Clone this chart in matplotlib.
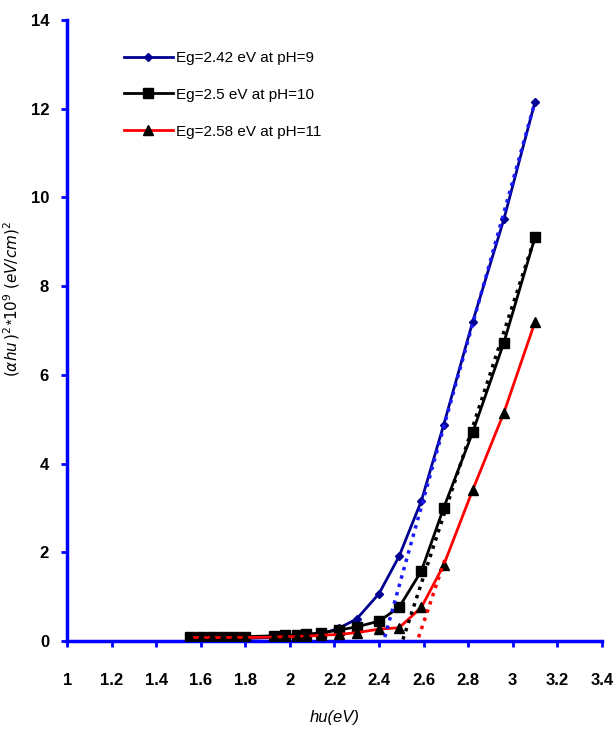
import matplotlib
matplotlib.use("Agg")
import matplotlib.pyplot as plt

# photon energy (eV), shared by the three samples
hv = [1.55, 1.60, 1.65, 1.70, 1.75, 1.80, 1.93, 1.98, 2.03, 2.07, 2.14,
      2.22, 2.30, 2.40, 2.49, 2.59, 2.69, 2.82, 2.96, 3.10]

# (alpha h nu)^2 * 10^9 (eV/cm)^2
ph9 = [0.05, 0.05, 0.05, 0.05, 0.06, 0.06, 0.08, 0.09, 0.10, 0.12, 0.16,
       0.29, 0.50, 1.07, 1.91, 3.16, 4.87, 7.19, 9.50, 12.15]
ph10 = [0.10, 0.10, 0.10, 0.10, 0.10, 0.10, 0.12, 0.13, 0.14, 0.16, 0.18,
        0.25, 0.32, 0.45, 0.76, 1.58, 3.00, 4.70, 6.72, 9.10]
ph11 = [0.08, 0.08, 0.08, 0.08, 0.08, 0.08, 0.09, 0.10, 0.10, 0.11, 0.13,
        0.15, 0.19, 0.27, 0.30, 0.76, 1.71, 3.40, 5.14, 7.19]

labels = ["Eg=2.42 eV at pH=9", "Eg=2.5 eV at pH=10", "Eg=2.58 eV at pH=11"]

# tangent (extrapolation) lines: x pairs and y pairs
tan9_x, tan9_y = [2.415, 3.10], [-0.1, 12.15]
tan10_x, tan10_y = [2.495, 3.10], [-0.15, 9.10]
tan11_x, tan11_y = [2.565, 2.70], [-0.1, 1.9]

font = ["Liberation Sans", "DejaVu Sans"]

fig = plt.figure(figsize=(6.16, 7.31), dpi=100)
ax = fig.add_axes([0.109, 0.123, 0.868, 0.850])

ax.plot(hv, ph9, color="#000090", lw=2, marker="D", ms=4.5,
        mfc="#000090", mec="#000090", label=labels[0], zorder=3)
ax.plot(hv, ph10, color="black", lw=2, marker="s", ms=6.5,
        mfc="black", mec="black", label=labels[1], zorder=3)
ax.plot(hv, ph11, color="red", lw=2, marker="^", ms=6.5,
        mfc="black", mec="black", label=labels[2], zorder=3)

ax.plot(tan9_x, tan9_y, color="#1a1aff", lw=2.5, ls=(0, (1, 1.5)), zorder=4)
ax.plot(tan10_x, tan10_y, color="black", lw=2.5, ls=(0, (1, 1.5)), zorder=4)
ax.plot(tan11_x, tan11_y, color="red", lw=2.5, ls=(0, (1, 1.5)), zorder=4)

ax.set_xlim(1, 3.4)
ax.set_ylim(0, 14)
ax.set_xticks([1, 1.2, 1.4, 1.6, 1.8, 2, 2.2, 2.4, 2.6, 2.8, 3, 3.2, 3.4])
ax.set_xticklabels(["1", "1.2", "1.4", "1.6", "1.8", "2", "2.2", "2.4",
                    "2.6", "2.8", "3", "3.2", "3.4"])
ax.set_yticks([0, 2, 4, 6, 8, 10, 12, 14])

for side in ["top", "right"]:
    ax.spines[side].set_visible(False)
for side in ["left", "bottom"]:
    ax.spines[side].set_color("#0000ff")
    ax.spines[side].set_linewidth(2.5)
ax.spines["bottom"].set_zorder(2)

ax.tick_params(axis="both", colors="#0000ff", width=2, length=4,
               labelcolor="black", labelsize=12)
ax.tick_params(axis="x", pad=19)
ax.tick_params(axis="y", pad=9)
for t in ax.get_xticklabels() + ax.get_yticklabels():
    t.set_family(font)
    t.set_fontweight("bold")

ax.set_xlabel("hu(eV)", family=font, style="italic", fontsize=12,
              labelpad=16)
ax.set_ylabel(r"$(\alpha hu\,)^2$*$10^9$ $(eV/cm)^2$", family=font,
              style="italic", fontsize=11, labelpad=14)
ax.yaxis.set_label_coords(-0.085, 0.55)

leg = ax.legend(loc="upper left", bbox_to_anchor=(0.08, 0.972), frameon=False,
                handlelength=3.2, handletextpad=0.2, labelspacing=1.5,
                prop={"family": font, "size": 11})

fig.savefig("out.png", dpi=100)
